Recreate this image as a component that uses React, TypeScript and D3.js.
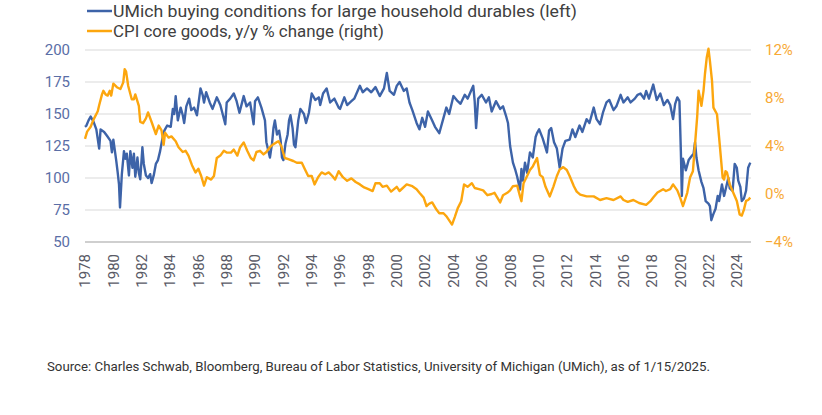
import React from "react";
import * as d3 from "d3";

const umichYears = [
  1978.0, 1978.1, 1978.25, 1978.4, 1978.6, 1978.8, 1979.0, 1979.1, 1979.35, 1979.55, 1979.8, 1979.9,
  1980.0, 1980.2, 1980.3, 1980.4, 1980.47, 1980.6, 1980.75, 1980.85, 1980.95, 1981.1, 1981.2, 1981.35,
  1981.45, 1981.55, 1981.7, 1981.8, 1981.9, 1982.05, 1982.15, 1982.3, 1982.45, 1982.6, 1982.7, 1982.85,
  1983.0, 1983.15, 1983.3, 1983.45, 1983.6, 1983.8, 1984.05, 1984.2, 1984.3, 1984.4, 1984.55, 1984.75,
  1984.9, 1985.0, 1985.15, 1985.35, 1985.5, 1985.7, 1985.9, 1986.15, 1986.3, 1986.4, 1986.55, 1986.8,
  1987.0, 1987.3, 1987.55, 1987.9, 1988.0, 1988.25, 1988.5, 1988.7, 1988.9, 1989.2, 1989.4, 1989.65,
  1989.9, 1990.0, 1990.2, 1990.45, 1990.7, 1990.8, 1991.05, 1991.2, 1991.3, 1991.4, 1991.55, 1991.7,
  1991.8, 1991.9, 1992.0, 1992.15, 1992.3, 1992.4, 1992.5, 1992.65, 1992.75, 1992.85, 1993.05, 1993.2,
  1993.45, 1993.6, 1993.8, 1994.0, 1994.25, 1994.5, 1994.6, 1994.8, 1995.05, 1995.3, 1995.6, 1995.9,
  1996.0, 1996.3, 1996.5, 1996.8, 1997.0, 1997.4, 1997.6, 1997.9, 1998.2, 1998.5, 1998.8, 1999.1,
  1999.3, 1999.5, 1999.8, 2000.0, 2000.2, 2000.5, 2000.7, 2000.9, 2001.1, 2001.4, 2001.6, 2001.8,
  2002.0, 2002.2, 2002.5, 2002.7, 2003.0, 2003.3, 2003.5, 2003.7, 2004.0, 2004.3, 2004.5, 2004.8,
  2005.0, 2005.4, 2005.5, 2005.6, 2005.75, 2006.0, 2006.3, 2006.5, 2006.7, 2007.0, 2007.3, 2007.5,
  2007.7, 2007.85, 2008.0, 2008.2, 2008.35, 2008.5, 2008.7, 2008.8, 2008.9, 2009.05, 2009.2, 2009.4,
  2009.6, 2009.8, 2009.9, 2010.05, 2010.3, 2010.6, 2010.75, 2010.9, 2011.1, 2011.3, 2011.5, 2011.7,
  2011.9, 2012.2, 2012.4, 2012.6, 2012.9, 2013.1, 2013.4, 2013.6, 2013.9, 2014.1, 2014.35, 2014.55,
  2014.8, 2015.0, 2015.3, 2015.5, 2015.8, 2016.0, 2016.3, 2016.5, 2016.8, 2017.0, 2017.2, 2017.45,
  2017.6, 2017.8, 2018.1, 2018.35, 2018.6, 2018.85, 2019.1, 2019.3, 2019.5, 2019.65, 2019.8, 2019.95,
  2020.05, 2020.12, 2020.2, 2020.4, 2020.6, 2020.8, 2020.95, 2021.05, 2021.15, 2021.3, 2021.5, 2021.65,
  2021.8, 2022.0, 2022.1, 2022.2, 2022.35, 2022.5, 2022.65, 2022.75, 2022.95, 2023.1, 2023.25, 2023.4,
  2023.5, 2023.7, 2023.85, 2024.0, 2024.1, 2024.25, 2024.35, 2024.5, 2024.65, 2024.8, 2024.95,
];
const umichValues = [
  140, 141, 145, 148, 144, 138, 123, 138, 136, 133, 129, 120,
  130, 114, 105, 95, 77, 103, 121, 115, 119, 102, 121, 108,
  119, 101, 116, 104, 99, 124, 111, 102, 100, 103, 96, 102,
  111, 114, 121, 130, 137, 141, 140, 154, 150, 164, 145, 155,
  149, 143, 156, 162, 153, 155, 149, 170, 165, 159, 167, 159,
  154, 163, 157, 142, 159, 162, 166, 160, 151, 164, 156, 159,
  142, 160, 163, 155, 145, 128, 116, 127, 139, 145, 134, 137,
  130, 116, 114, 127, 134, 145, 149, 139, 126, 124, 145, 154,
  150, 143, 151, 166, 161, 163, 157, 166, 170, 159, 162, 155,
  154, 163, 157, 160, 162, 172, 167, 170, 167, 171, 164, 170,
  182, 168, 165, 172, 175, 168, 170, 159, 153, 143, 138, 147,
  140, 152, 145, 140, 135, 147, 155, 150, 164, 160, 158, 165,
  162, 172, 160, 139, 162, 165, 159, 163, 152, 160, 154, 156,
  149, 143, 125, 112, 107, 101, 91, 107, 98, 112, 104, 120,
  116, 132, 135, 138, 131, 120, 137, 139, 128, 123, 108, 123,
  129, 130, 138, 132, 141, 136, 146, 143, 155, 146, 142, 151,
  159, 161, 153, 156, 165, 159, 163, 159, 162, 165, 166, 162,
  168, 162, 173, 161, 166, 157, 161, 157, 146, 158, 163, 160,
  121, 86, 115, 106, 114, 117, 119, 128, 116, 106, 97, 92,
  82, 80, 78, 67, 72, 76, 86, 82, 95, 86, 93, 100,
  92, 90, 111, 108, 98, 93, 82, 84, 90, 108, 112,
];

const cpiYears = [
  1978.0, 1978.15, 1978.4, 1978.6, 1978.9, 1979.0, 1979.2, 1979.3, 1979.45, 1979.6, 1979.75, 1979.85,
  1980.0, 1980.25, 1980.5, 1980.7, 1980.8, 1980.9, 1981.05, 1981.3, 1981.45, 1981.55, 1981.8, 1981.9,
  1982.1, 1982.3, 1982.45, 1982.7, 1983.0, 1983.2, 1983.4, 1983.55, 1983.65, 1983.9, 1984.1, 1984.4,
  1984.6, 1984.9, 1985.1, 1985.3, 1985.55, 1985.8, 1986.0, 1986.2, 1986.4, 1986.6, 1986.9, 1987.1,
  1987.3, 1987.55, 1987.8, 1988.0, 1988.3, 1988.5, 1988.75, 1988.95, 1989.2, 1989.45, 1989.7, 1989.9,
  1990.1, 1990.35, 1990.6, 1990.8, 1991.05, 1991.3, 1991.5, 1991.65, 1991.85, 1992.1, 1992.35, 1992.7,
  1992.95, 1993.3, 1993.5, 1993.75, 1994.0, 1994.2, 1994.45, 1994.7, 1994.95, 1995.2, 1995.45, 1995.65,
  1995.9, 1996.2, 1996.5, 1996.8, 1997.1, 1997.4, 1997.7, 1998.0, 1998.3, 1998.5, 1998.8, 1999.0,
  1999.3, 1999.6, 2000.0, 2000.2, 2000.7, 2001.1, 2001.4, 2001.6, 2001.9, 2002.1, 2002.3, 2002.5,
  2002.8, 2003.0, 2003.3, 2003.5, 2003.7, 2003.9, 2004.1, 2004.3, 2004.55, 2004.75, 2005.0, 2005.3,
  2005.5, 2005.8, 2006.1, 2006.4, 2006.7, 2006.9, 2007.1, 2007.3, 2007.5, 2007.8, 2008.0, 2008.2,
  2008.5, 2008.7, 2008.8, 2008.95, 2009.2, 2009.4, 2009.6, 2009.9, 2010.1, 2010.3, 2010.5, 2010.8,
  2011.05, 2011.3, 2011.5, 2011.75, 2012.0, 2012.2, 2012.5, 2012.7, 2012.95, 2013.4, 2013.9, 2014.35,
  2014.8, 2015.3, 2015.8, 2016.0, 2016.3, 2016.7, 2017.1, 2017.6, 2017.9, 2018.1, 2018.4, 2018.8,
  2019.0, 2019.3, 2019.5, 2019.8, 2020.0, 2020.2, 2020.5, 2020.7, 2020.9, 2021.05, 2021.2, 2021.3,
  2021.4, 2021.5, 2021.65, 2021.75, 2021.88, 2022.0, 2022.1, 2022.25, 2022.35, 2022.6, 2022.75, 2023.0,
  2023.1, 2023.2, 2023.3, 2023.5, 2023.75, 2024.0, 2024.2, 2024.35, 2024.5, 2024.65, 2024.8, 2024.95,
];
const cpiValues = [
  4.6, 5.2, 5.6, 6.2, 6.9, 7.4, 8.3, 8.6, 8.3, 8.2, 8.6, 8.2,
  9.2, 8.9, 8.75, 9.3, 10.4, 10.2, 9.0, 7.9, 7.9, 8.3, 7.35, 6.0,
  5.9, 6.3, 6.8, 6.0, 5.0, 5.7, 5.3, 4.1, 5.1, 4.7, 4.8, 4.4,
  3.9, 3.5, 3.6, 3.2, 2.4, 1.8, 2.1, 1.5, 0.7, 1.4, 1.2, 1.5,
  3.0, 3.2, 3.6, 3.45, 3.45, 3.7, 3.2, 3.9, 4.3, 3.6, 3.0, 2.8,
  3.5, 3.6, 3.3, 3.5, 3.9, 4.15, 4.3, 4.4, 4.0, 3.0, 2.9, 2.75,
  2.6, 2.6, 2.1, 1.5, 1.5, 0.8, 1.4, 1.8, 1.65, 1.8, 1.5, 1.2,
  1.9, 1.4, 1.1, 1.3, 1.0, 0.8, 0.55, 0.4, 0.24, 0.9, 0.9, 0.6,
  0.7, 0.2, 0.6, 0.25, 0.8, 0.65, 0.4, 0.1, -0.3, -1.0, -0.8, -0.7,
  -1.3, -1.6, -1.6, -1.85, -2.2, -2.55, -1.9, -1.2, -0.6, 0.8, 0.6, 0.9,
  0.5, 0.4, 0.3, -0.1, 0.0, 0.1, -0.3, -0.7, -0.1, 0.1, 0.3, 0.65,
  0.7, -0.2, -0.6, 0.9, 1.5, 2.0, 2.3, 3.0, 1.6, 1.4, 0.6, -0.2,
  0.6, 1.5, 2.05, 2.24, 2.0, 1.5, 0.65, 0.2, -0.05, -0.2, -0.2, -0.5,
  -0.35, -0.5, -0.2, -0.5, -0.65, -0.5, -0.75, -0.9, -0.6, -0.3, 0.12, 0.4,
  0.25, 0.4, 0.8, 0.3, -0.3, -1.0, 0.1, 1.37, 1.9, 4.15, 6.4, 8.6,
  8.0, 7.35, 8.6, 10.0, 11.4, 12.1, 11.1, 9.4, 7.2, 6.65, 4.7, 1.37,
  1.2, 1.9, 1.8, 0.8, 0.1, -0.58, -1.7, -1.8, -1.3, -0.58, -0.5, -0.3,
];

const leftTicks = [50, 75, 100, 125, 150, 175, 200];
const rightTicks = [-4, 0, 4, 8, 12];
const yearTicks = d3.range(1978, 2025, 2);

const legendLabels = [
  "UMich buying conditions for large household durables (left)",
  "CPI core goods, y/y % change (right)",
];
const sourceText =
  "Source: Charles Schwab, Bloomberg, Bureau of Labor Statistics, University of Michigan (UMich), as of 1/15/2025.";

const BLUE = "#3d63a8";
const ORANGE = "#fca60e";

export default function App() {
  const x = d3.scaleLinear().domain([1978, 2025]).range([85, 751]);
  const yL = d3.scaleLinear().domain([50, 200]).range([242, 50]);
  const yR = d3.scaleLinear().domain([-4, 12]).range([242, 50]);

  const umich = umichYears.map((t, i) => [t, umichValues[i]] as [number, number]);
  const cpi = cpiYears.map((t, i) => [t, cpiValues[i]] as [number, number]);

  const blueLine = d3
    .line<[number, number]>()
    .x((d) => x(d[0]))
    .y((d) => yL(d[1]))(umich) as string;
  const orangeLine = d3
    .line<[number, number]>()
    .x((d) => x(d[0]))
    .y((d) => yR(d[1]))(cpi) as string;

  const font = "Roboto, 'Liberation Sans', Arial, sans-serif";

  return (
    <svg
      width={822}
      height={415}
      style={{ position: "absolute", left: 0, top: 0, background: "#fff" }}
      fontFamily={font}
    >
      <rect x={0} y={0} width={822} height={415} fill="#fff" />
      {/* Legend */}
      {legendLabels.map((lab, i) => (
        <g key={lab}>
          <line
            x1={87}
            x2={112}
            y1={11 + i * 20}
            y2={11 + i * 20}
            stroke={i === 0 ? BLUE : ORANGE}
            strokeWidth={2.5}
          />
          <text
            x={113}
            y={17 + i * 20}
            fontSize={16.5}
            fill="#404040"
            textLength={i === 0 ? 464 : 271}
            lengthAdjust="spacingAndGlyphs"
          >
            {lab}
          </text>
        </g>
      ))}

      {/* Gridlines */}
      {leftTicks.map((t) => (
        <line
          key={t}
          x1={85}
          x2={751}
          y1={yL(t)}
          y2={yL(t)}
          stroke={t === 50 ? "#bfbfbf" : "#d9d9d9"}
          strokeWidth={t === 50 ? 1.5 : 1.2}
        />
      ))}

      {/* Left axis labels */}
      {leftTicks.map((t) => (
        <text
          key={t}
          x={70}
          y={yL(t)}
          dy="0.36em"
          textAnchor="end"
          fontSize={15}
          fill="#5a6ea6"
        >
          {t}
        </text>
      ))}

      {/* Right axis labels */}
      {rightTicks.map((t) => (
        <text
          key={t}
          x={765}
          y={yR(t)}
          dy="0.36em"
          textAnchor="start"
          fontSize={15}
          fill="#f7a935"
        >
          {t < 0 ? `\u2212${Math.abs(t)}%` : `${t}%`}
        </text>
      ))}

      {/* X axis labels */}
      {yearTicks.map((yr) => (
        <text
          key={yr}
          transform={`translate(${x(yr)},254) rotate(-90)`}
          dy="0.36em"
          textAnchor="end"
          fontSize={15}
          fill="#595a66"
        >
          {yr}
        </text>
      ))}

      {/* Series */}
      <path d={blueLine} fill="none" stroke={BLUE} strokeWidth={2.4} strokeLinejoin="round" />
      <path d={orangeLine} fill="none" stroke={ORANGE} strokeWidth={2.4} strokeLinejoin="round" />

      {/* Source */}
      <text x={47} y={371} fontSize={12.5} fill="#333" textLength={663} lengthAdjust="spacingAndGlyphs">
        {sourceText}
      </text>
    </svg>
  );
}
